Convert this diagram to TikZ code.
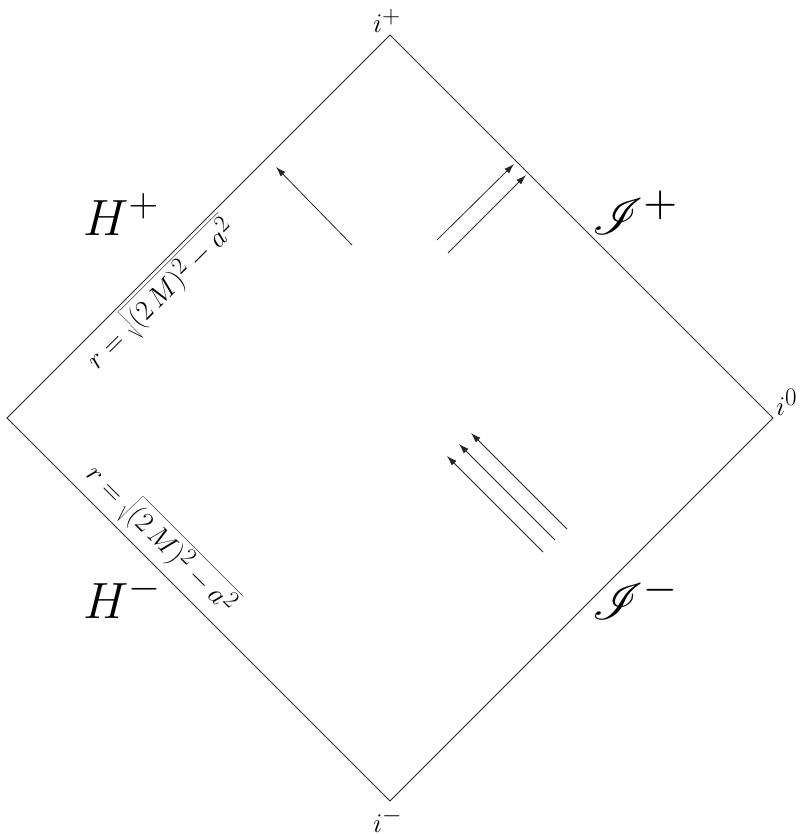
\RequirePackage{fix-cm}
\documentclass[tikz,border=0pt]{standalone}
\usepackage{graphicx}
\usepackage{mathrsfs}
\usetikzlibrary{arrows.meta}
\DeclareMathSizes{10}{10}{8}{6}
\DeclareMathSizes{27}{27}{25}{20}
\DeclareMathSizes{51}{51}{41}{30}
\DeclareMathSizes{28}{28}{24}{18}
\newcommand\scrbig[1]{\scalebox{5.1}{\fontsize{10}{12}\selectfont$#1$}}
\begin{document}
\begin{tikzpicture}[x=1pt,y=-1pt,
  edge/.style={line width=0.9pt, draw=black!85},
  ray/.style={line width=0.8pt, draw=black!85, -{Latex[length=10pt,width=6.5pt]}},
  biglabel/.style={inner sep=0pt, font=\fontsize{51}{60}\selectfont},
  pointlabel/.style={inner sep=0pt, font=\fontsize{27}{32}\selectfont},
  horizonlabel/.style={inner sep=0pt, font=\fontsize{28}{34}\selectfont}]
\useasboundingbox (0,0) rectangle (803,834);
% vertices
\coordinate (top) at (390,35);
\coordinate (right) at (773,418);
\coordinate (bottom) at (390,801);
\coordinate (left) at (7,418);
\draw[edge] (top) -- (right) -- (bottom) -- (left) -- cycle;
% vertex labels
\node[pointlabel, anchor=base west] (iplus) at (373,33) {$i^+$};
\node[pointlabel, anchor=base west] (iminus) at (373,832) {$i^-$};
\node[pointlabel, anchor=base west] (izero) at (776,415) {$i^0$};
% boundary labels
\node[biglabel, anchor=base west] (Hplus) at (83,235) {$H^+$};
\node[biglabel, anchor=base west] (Hminus) at (83,618) {$H^-$};
\node[inner sep=0pt, anchor=base west] (Iplus) at (592,234) {\scrbig{\mathscr{I}^+}};
\node[inner sep=0pt, anchor=base west] (Iminus) at (592,619) {\scrbig{\mathscr{I}^-}};
% horizon radius labels
\node[horizonlabel, rotate=45, anchor=north] (rplus) at (147.6,281.6) {$r=\sqrt{(2\,M)^2-a^2}$};
\node[horizonlabel, rotate=-45, anchor=south] (rminus) at (148,552) {$r=\sqrt{(2\,M)^2-a^2}$};
% rays
\coordinate (a1s) at (352,245); \coordinate (a1e) at (276,167);
\coordinate (a2s) at (437,240); \coordinate (a2e) at (514,164);
\coordinate (a3s) at (448,253); \coordinate (a3e) at (526,175);
\coordinate (b1s) at (543,552); \coordinate (b1e) at (447,456);
\coordinate (b2s) at (555,540); \coordinate (b2e) at (459,444);
\coordinate (b3s) at (567,529); \coordinate (b3e) at (471,433);
\draw[ray] (a1s) -- (a1e);
\draw[ray] (a2s) -- (a2e);
\draw[ray] (a3s) -- (a3e);
\draw[ray] (b1s) -- (b1e);
\draw[ray] (b2s) -- (b2e);
\draw[ray] (b3s) -- (b3e);
\end{tikzpicture}
\end{document}
